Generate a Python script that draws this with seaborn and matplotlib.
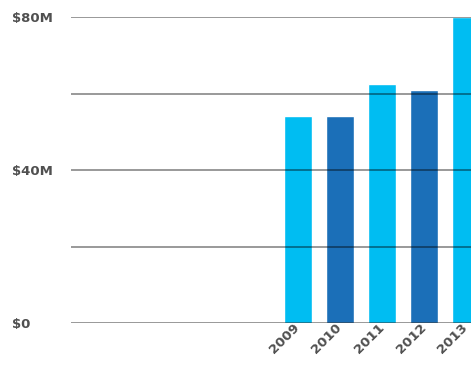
import matplotlib
matplotlib.use("Agg")
import matplotlib.pyplot as plt
import seaborn as sns
import pandas as pd

years = ["2009", "2010", "2011", "2012", "2013"]
values = [54, 54, 62.5, 61, 80]  # $M
bar_colors = ["#00BDF2", "#1B6FB8", "#00BDF2", "#1B6FB8", "#00BDF2"]
ytick_vals = [0, 20, 40, 60, 80]
ytick_labels = ["$0", "", "$40M", "", "$80M"]

sns.set_style("white")
plt.rcParams['font.family'] = ['DejaVu Sans']

df = pd.DataFrame({"year": years, "value": values})

fig = plt.figure(figsize=(4.71, 3.69), dpi=100)
ax = fig.add_axes([71/471, 46/369, 1 - 71/471, 306/369])

sns.barplot(data=df, x="year", y="value", hue="year", palette=bar_colors,
            legend=False, width=0.667, saturation=1, ax=ax)

ax.set_xlim(-5.40, 4.12)
ax.set_ylim(0, 80)
ax.set_axisbelow(False)
ax.set_yticks(ytick_vals)
ax.set_yticklabels(ytick_labels)
ax.yaxis.grid(True, color="black", alpha=0.4, linewidth=1.4)
ax.xaxis.grid(False)
for s in ax.spines.values():
    s.set_visible(False)
ax.tick_params(axis="y", length=0, pad=42.5, labelsize=9.5, labelcolor="#505050")
for lab in ax.get_yticklabels():
    lab.set_horizontalalignment("left")
    lab.set_fontweight("bold")
ax.tick_params(axis="x", length=0, pad=2, labelsize=9.5, labelcolor="#505050")
for lab in ax.get_xticklabels():
    lab.set_rotation(45)
    lab.set_horizontalalignment("right")
    lab.set_verticalalignment("center")
    lab.set_rotation_mode("anchor")
    lab.set_fontweight("bold")
ax.set_xlabel("")
ax.set_ylabel("")

fig.savefig("out.png", dpi=100)
